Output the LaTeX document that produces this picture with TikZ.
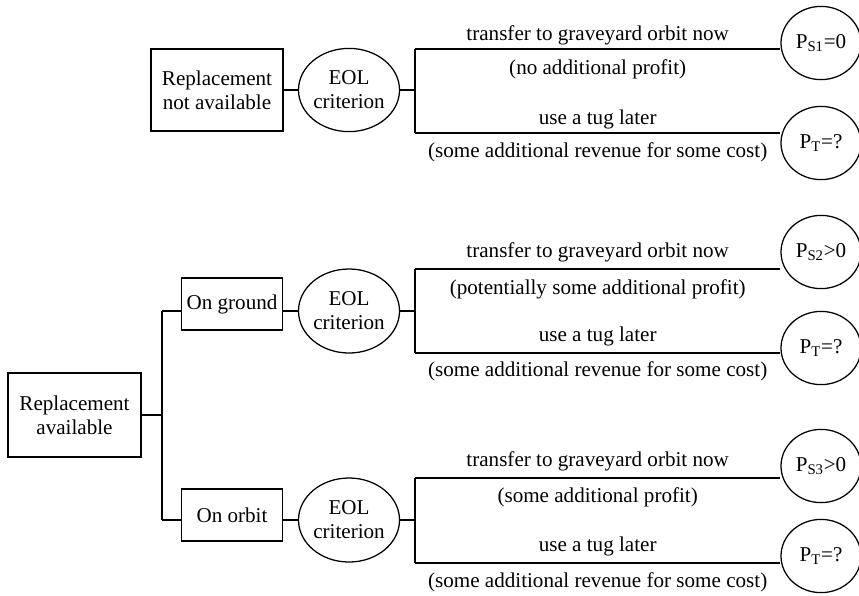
\documentclass[tikz,border=0pt]{standalone}
\usepackage{fontspec}
\setmainfont{Liberation Serif}
\usetikzlibrary{shapes.geometric}

\begin{document}
\begin{tikzpicture}[x=0.025cm,y=-0.025cm,
  every node/.style={font=\fontsize{15}{17}\selectfont},
  box/.style={rectangle,draw,line width=0.9pt,align=center,inner sep=2pt},
  eol/.style={ellipse,draw,line width=0.9pt,minimum width=2.25cm,minimum height=2.08cm,inner sep=0pt,align=center},
  res/.style={ellipse,draw,line width=0.9pt,minimum width=2cm,minimum height=1.83cm,inner sep=0pt},
  lnk/.style={line width=0.9pt},
  lbl/.style={text height=0.7em,text depth=0.25em,inner sep=2pt}
]
\useasboundingbox (0,0) rectangle (859,595);
% top: no replacement
\node[box,minimum width=3.3cm,minimum height=2.05cm] (nav) at (217,90) {Replacement\\ not available};
\node[eol] (eolA) at (349,90) {EOL\\ criterion};
\node[res] (sA) at (821,43) {P\textsubscript{S1}=0};
\node[res] (tA) at (821,143) {P\textsubscript{T}=?};
\coordinate (jA) at (415,90);
\coordinate (jAt) at (415,49);
\coordinate (jAb) at (415,133);
\draw[lnk] (nav)--(eolA);
\draw[lnk] (eolA)--(jA);
\draw[lnk] (jAt)--(jAb);
\draw[lnk] (jAt)--(jAt -| sA.west)
  node[lbl,midway,above=1pt]{transfer to graveyard orbit now}
  node[lbl,midway,below=9pt]{(no additional profit)};
\draw[lnk] (jAb)--(jAb -| tA.west)
  node[lbl,midway,above=1pt]{use a tug later}
  node[lbl,midway,below=8pt]{(some additional revenue for some cost)};

% bottom: replacement available
\node[box,minimum width=3.33cm,minimum height=2.1cm] (av) at (74.5,415) {Replacement\\ available};
\node[box,minimum width=2.52cm,minimum height=1.3cm] (gnd) at (232,304) {On ground};
\node[box,minimum width=2.52cm,minimum height=1.3cm] (orb) at (232,515) {On orbit};
\node[eol,minimum height=2.1cm] (eolB) at (349,311) {EOL\\ criterion};
\node[eol,minimum height=2.1cm] (eolC) at (349,520) {EOL\\ criterion};
\node[res] (sB) at (821,252) {P\textsubscript{S2}>0};
\node[res] (tB) at (821,348) {P\textsubscript{T}=?};
\node[res] (sC) at (821,466) {P\textsubscript{S3}>0};
\node[res] (tC) at (821,556) {P\textsubscript{T}=?};
\coordinate (jR) at (162,415);
\coordinate (jRt) at (162,311);
\coordinate (jRb) at (162,520);
\draw[lnk] (av)--(jR);
\draw[lnk] (jRt)--(jRb);
\draw[lnk] (jRt)--(jRt -| gnd.west);
\draw[lnk] (jRb)--(jRb -| orb.west);
\draw[lnk] (eolB.west -| gnd.east)--(eolB);
\draw[lnk] (eolC.west -| orb.east)--(eolC);
% ground branch
\coordinate (jBt) at (415,269);
\coordinate (jBb) at (415,353);
\draw[lnk] (eolB)--(eolB -| jBt);
\draw[lnk] (jBt)--(jBb);
\draw[lnk] (jBt)--(jBt -| sB.west)
  node[lbl,midway,above=3pt]{transfer to graveyard orbit now}
  node[lbl,midway,below=9pt]{(potentially some additional profit)};
\draw[lnk] (jBb)--(jBb -| tB.west)
  node[lbl,midway,above=3pt]{use a tug later}
  node[lbl,midway,below=7pt]{(some additional revenue for some cost)};
% orbit branch
\coordinate (jCt) at (415,478);
\coordinate (jCb) at (415,563);
\draw[lnk] (eolC)--(eolC -| jCt);
\draw[lnk] (jCt)--(jCb);
\draw[lnk] (jCt)--(jCt -| sC.west)
  node[lbl,midway,above=3pt]{transfer to graveyard orbit now}
  node[lbl,midway,below=8pt]{(some additional profit)};
\draw[lnk] (jCb)--(jCb -| tC.west)
  node[lbl,midway,above=3pt]{use a tug later}
  node[lbl,midway,below=8pt]{(some additional revenue for some cost)};
\end{tikzpicture}
\end{document}
